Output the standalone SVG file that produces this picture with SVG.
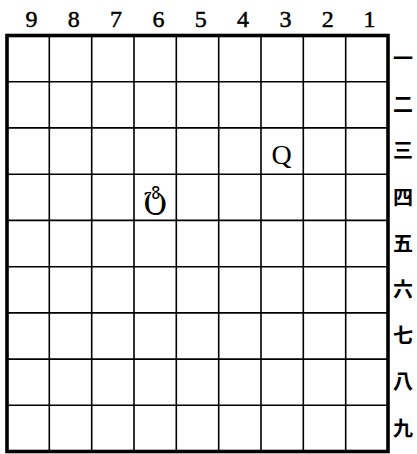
<svg xmlns="http://www.w3.org/2000/svg" width="417" height="454" viewBox="0 0 417 454">
<style>
.grid{stroke:#000;stroke-width:1.6;fill:none}
.border{stroke:#000;stroke-width:3.6;fill:none}
.col{font-family:"Liberation Serif","DejaVu Serif",serif;font-size:24px;text-anchor:middle;fill:#000;stroke:#000;stroke-width:0.5}
.row{font-family:"Noto Sans CJK JP","Noto Sans CJK SC",sans-serif;font-size:20px;font-weight:bold;text-anchor:middle;fill:#000}
.piece{font-family:"Liberation Serif","DejaVu Serif",serif;font-size:28px;text-anchor:middle;fill:#000}
</style>
<rect width="417" height="454" fill="#fff"/>
<g id="grid" class="grid">
<path d="M49.3 35.5V451.5M91.7 35.5V451.5M134 35.5V451.5M176.3 35.5V451.5M218.7 35.5V451.5M261 35.5V451.5M303.3 35.5V451.5M345.7 35.5V451.5"/>
<path d="M7 81.7H388M7 127.9H388M7 174.2H388M7 220.4H388M7 266.7H388M7 312.9H388M7 359.1H388M7 405.3H388"/>
</g>
<rect id="board" class="border" x="7" y="35.5" width="381" height="416"/>
<g id="columns">
<text class="col" x="31.5" y="26.5">9</text>
<text class="col" x="73.8" y="26.5">8</text>
<text class="col" x="116" y="26.5">7</text>
<text class="col" x="158.4" y="26.5">6</text>
<text class="col" x="200.7" y="26.5">5</text>
<text class="col" x="243" y="26.5">4</text>
<text class="col" x="285.4" y="26.5">3</text>
<text class="col" x="327.7" y="26.5">2</text>
<text class="col" x="369.5" y="26.5">1</text>
</g>
<g id="rows">
<text class="row" x="403" y="65.8">一</text>
<text class="row" x="403" y="112">二</text>
<text class="row" x="403" y="158.2">三</text>
<text class="row" x="403" y="204.5">四</text>
<text class="row" x="403" y="250.7">五</text>
<text class="row" x="403" y="297">六</text>
<text class="row" x="403" y="343.2">七</text>
<text class="row" x="403" y="389.4">八</text>
<text class="row" x="403" y="435.6">九</text>
</g>
<g id="piece-q"><text class="piece" x="281.5" y="164">Q</text></g>
<g id="piece-t"><text class="piece" x="155" y="208" style="font-family:'DejaVu Serif',serif;font-size:32px">ტ</text></g>
</svg>
